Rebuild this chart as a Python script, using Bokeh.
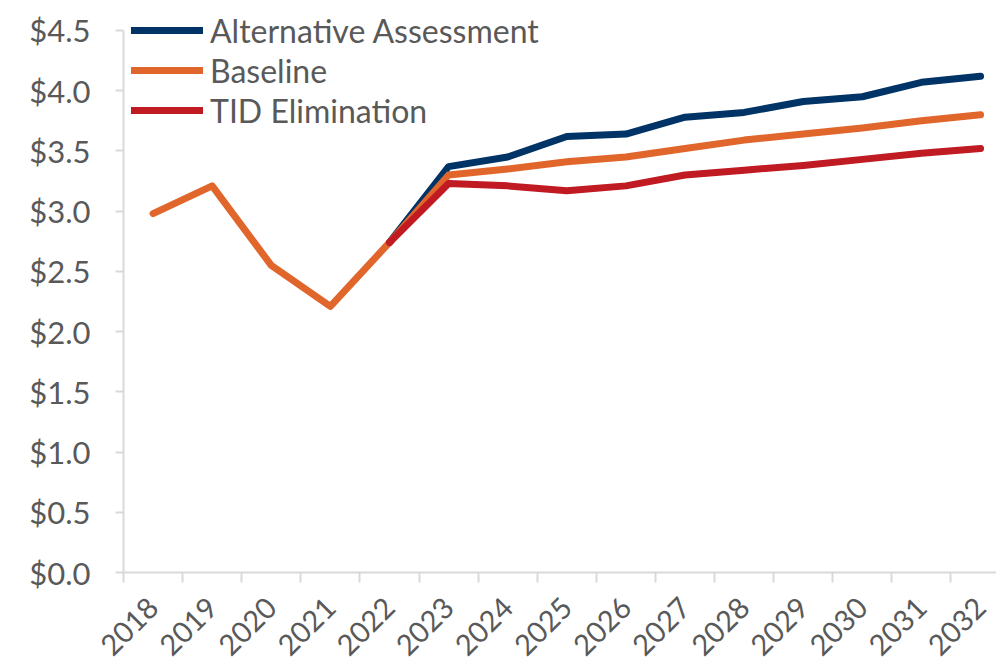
from bokeh.plotting import figure
from bokeh.models import Range1d, FixedTicker, PrintfTickFormatter, Legend, LegendItem
from bokeh.embed import file_html
from bokeh.resources import INLINE
import math

years = ["2018", "2019", "2020", "2021", "2022", "2023", "2024", "2025",
         "2026", "2027", "2028", "2029", "2030", "2031", "2032"]
baseline = [2.98, 3.21, 2.55, 2.21, 2.74, 3.30, 3.35, 3.41, 3.45, 3.52, 3.59, 3.64, 3.69, 3.75, 3.80]
alt_years = years[4:]
alternative = [2.74, 3.37, 3.45, 3.62, 3.64, 3.78, 3.82, 3.91, 3.95, 4.07, 4.12]
tid_years = years[4:]
tid = [2.74, 3.23, 3.21, 3.17, 3.21, 3.30, 3.34, 3.38, 3.43, 3.48, 3.52]
y_ticks = [0.0, 0.5, 1.0, 1.5, 2.0, 2.5, 3.0, 3.5, 4.0, 4.5]

FONT = "Lato"
GRAY = "#595959"
AXIS = "#d9d9d9"

idx = {y: i for i, y in enumerate(years)}

p = figure(frame_width=873, frame_height=564, output_backend="svg", toolbar_location=None,
           x_range=Range1d(-0.5, 14.27), y_range=Range1d(0, 4.6826),
           min_border_left=123, min_border_right=0, min_border_top=8, min_border_bottom=96)
p.outline_line_color = None
p.grid.grid_line_color = None

r_alt = p.line([idx[y] for y in alt_years], alternative, line_color="#003366", line_width=7,
               line_cap="round", line_join="round")
r_base = p.line([idx[y] for y in years], baseline, line_color="#E0662B", line_width=7,
                line_cap="round", line_join="round")
r_tid = p.line([idx[y] for y in tid_years], tid, line_color="#C01A23", line_width=7,
               line_cap="round", line_join="round")

# axes
xa = p.xaxis[0]
xa.ticker = FixedTicker(ticks=list(range(len(years))),
                        minor_ticks=[i - 0.5 for i in range(len(years) + 1)])
xa.major_label_overrides = {i: y for i, y in enumerate(years)}
xa.major_label_orientation = math.pi / 4
xa.major_tick_line_color = None
xa.major_tick_out = 0
xa.major_tick_in = 0
xa.minor_tick_out = 10
xa.minor_tick_in = 0
xa.minor_tick_line_color = AXIS
xa.minor_tick_line_width = 2
xa.axis_line_color = AXIS
xa.axis_line_width = 2
xa.major_label_text_font = FONT
xa.major_label_text_font_size = "29px"
xa.major_label_text_color = GRAY
xa.major_label_standoff = 20

ya = p.yaxis[0]
ya.ticker = FixedTicker(ticks=y_ticks)
ya.formatter = PrintfTickFormatter(format="$%.1f")
ya.bounds = (0, 4.5)
ya.major_tick_out = 8
ya.major_tick_in = 0
ya.major_tick_line_color = AXIS
ya.major_tick_line_width = 2
ya.minor_tick_line_color = None
ya.axis_line_color = AXIS
ya.axis_line_width = 2
ya.major_label_text_font = FONT
ya.major_label_text_font_size = "31px"
ya.major_label_text_color = GRAY
ya.major_label_standoff = 25

legend = Legend(items=[LegendItem(label="Alternative Assessment", renderers=[r_alt]),
                       LegendItem(label="Baseline", renderers=[r_base]),
                       LegendItem(label="TID Elimination", renderers=[r_tid])],
                location=(8, 442))
legend.background_fill_alpha = 0
legend.border_line_color = None
legend.padding = 0
legend.margin = 0
legend.spacing = 0
legend.glyph_width = 72
legend.glyph_height = 40
legend.label_height = 40
legend.label_standoff = 7
legend.label_text_font = FONT
legend.label_text_font_size = "32px"
legend.label_text_color = GRAY
p.add_layout(legend, "center")

open("out.html", "w").write(file_html(p, INLINE))
